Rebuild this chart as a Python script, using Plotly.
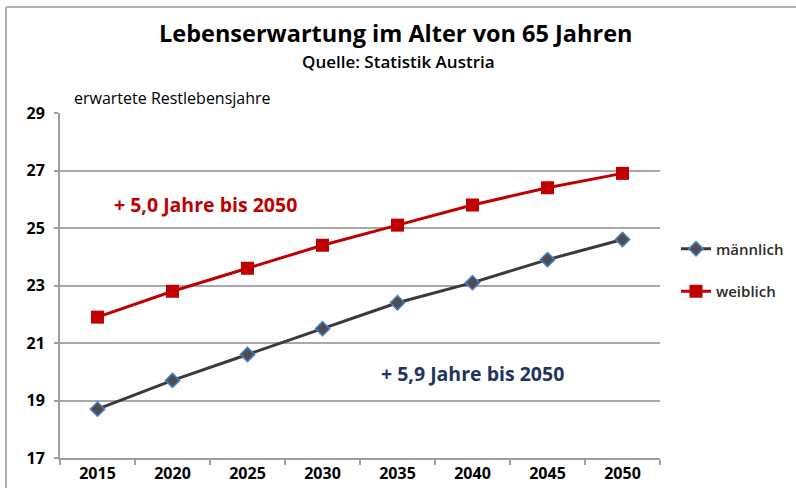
import plotly.graph_objects as go

years = ["2015", "2020", "2025", "2030", "2035", "2040", "2045", "2050"]
maennlich = [18.7, 19.7, 20.6, 21.5, 22.4, 23.1, 23.9, 24.6]
weiblich = [21.9, 22.8, 23.6, 24.4, 25.1, 25.8, 26.4, 26.9]
y_ticks = [17, 19, 21, 23, 25, 27, 29]

FONT = "Open Sans"

fig = go.Figure()
fig.add_trace(go.Scatter(
    x=years, y=maennlich, name="männlich", mode="lines+markers",
    line=dict(color="#3a3a3a", width=3),
    marker=dict(symbol="diamond", size=11, color="#4d4d4d",
                line=dict(color="#4a7cc7", width=1.5)),
    legendgroup="m",
))
fig.add_trace(go.Scatter(
    x=years, y=weiblich, name="weiblich", mode="lines+markers",
    line=dict(color="#c00000", width=3),
    marker=dict(symbol="square", size=13, color="#c00000"),
    legendgroup="w",
))

fig.update_layout(
    width=796, height=488,
    margin=dict(l=60, r=136, t=113, b=30, autoexpand=False),
    paper_bgcolor="white", plot_bgcolor="white",
    font=dict(family=FONT, color="black"),
    showlegend=True,
    legend=dict(x=(676 - 60) / 600, y=(458 - 270) / 345, xanchor="left", yanchor="middle",
                font=dict(size=15, color="#2a2a2a", weight=600), tracegroupgap=20,
                bgcolor="rgba(0,0,0,0)"),
    xaxis=dict(type="category", tickson="boundaries", ticks="outside",
               ticklen=5, tickcolor="#a0a0a0", tickwidth=2,
               showline=True, linecolor="#a0a0a0", linewidth=2,
               showgrid=False, automargin=False,
               tickfont=dict(size=16, color="black", weight="bold"),
               range=[-0.5, 7.5]),
    yaxis=dict(range=[17, 29], tickvals=y_ticks, ticks="outside",
               ticklen=4, tickcolor="#a0a0a0", tickwidth=2,
               showline=True, linecolor="#a0a0a0", linewidth=2,
               showgrid=True, gridcolor="#a8a8a8", gridwidth=2,
               zeroline=False, automargin=False, ticklabelstandoff=6,
               tickfont=dict(size=16, color="black", weight="bold")),
)

fig.add_annotation(text="Lebenserwartung im Alter von 65 Jahren",
                   xref="paper", yref="paper", x=(396 - 60) / 600, y=(458 - 33) / 345,
                   showarrow=False, font=dict(size=23.5, color="black", weight="bold"),
                   xanchor="center", yanchor="middle")
fig.add_annotation(text="Quelle: Statistik Austria",
                   xref="paper", yref="paper", x=(399 - 60) / 600, y=(458 - 62) / 345,
                   showarrow=False, font=dict(size=17, color="black", weight=600),
                   xanchor="center", yanchor="middle")
fig.add_annotation(text="erwartete Restlebensjahre",
                   xref="paper", yref="paper", x=(72 - 60) / 600, y=(458 - 98) / 345,
                   showarrow=False, font=dict(size=16, color="black"),
                   xanchor="left", yanchor="middle")
fig.add_annotation(text="+ 5,0 Jahre bis 2050",
                   xref="paper", yref="paper", x=(112 - 60) / 600, y=(458 - 204) / 345,
                   showarrow=False, font=dict(size=19.5, color="#c00000", weight="bold"),
                   xanchor="left", yanchor="middle")
fig.add_annotation(text="+ 5,9 Jahre bis 2050",
                   xref="paper", yref="paper", x=(379 - 60) / 600, y=(458 - 373) / 345,
                   showarrow=False, font=dict(size=19.5, color="#1f3560", weight="bold"),
                   xanchor="left", yanchor="middle")

# outer frame (top and left edges)
fx = (6 - 60) / 600
fy = (458 - 7) / 345
fig.add_shape(type="line", xref="paper", yref="paper", x0=fx, y0=fy, x1=1.3, y1=fy,
              line=dict(color="#b0b0b0", width=2))
fig.add_shape(type="line", xref="paper", yref="paper", x0=fx, y0=fy, x1=fx, y1=-0.2,
              line=dict(color="#b0b0b0", width=2))

fig.write_html("out.html")
